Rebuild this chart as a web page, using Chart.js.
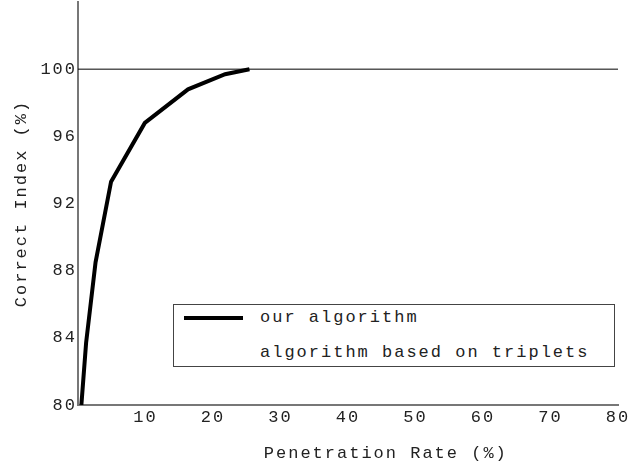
<!DOCTYPE html>
<html>
<head>
<meta charset="utf-8">
<script src="https://cdn.jsdelivr.net/npm/chart.js@4"></script>
<style>
  html, body { margin: 0; padding: 0; background: #fff; }
  #wrap { position: relative; width: 644px; height: 468px; }
  #legend {
    position: absolute; left: 173px; top: 304px; width: 442px; height: 63px;
    border: 1px solid #444; background: #fff; box-sizing: border-box;
    font-family: "Liberation Mono", monospace; font-size: 17px; letter-spacing: 2px; color: #222;
  }
  .row { position: absolute; left: 0; height: 20px; line-height: 20px; }
  .row .swatch { position: absolute; left: 10px; top: 8px; width: 59px; height: 4px; background: #000; }
  .row .lbl { position: absolute; left: 86px; white-space: nowrap; }
</style>
</head>
<body>
<div id="wrap">
  <canvas id="chart" width="644" height="468"></canvas>
  <div id="legend">
    <div class="row" style="top:3px"><span class="swatch"></span><span class="lbl">our algorithm</span></div>
    <div class="row" style="top:38px"><span class="lbl">algorithm based on triplets</span></div>
  </div>
</div>
<script>
// -------------------------
// Data
// -------------------------
const oursX = [0.5, 1.2, 2.6, 4.9, 9.9, 16.3, 21.8, 25.4];
const oursY = [80, 83.7, 88.5, 93.3, 96.8, 98.8, 99.7, 100];
const tripletsX = [0, 80];
const tripletsY = [100, 100];

const xTitle = "Penetration Rate (%)";
const yTitle = "Correct Index (%)";

const FONT = "'Liberation Mono', monospace";
const toPoints = (xs, ys) => xs.map((x, i) => ({ x, y: ys[i] }));

// letter spacing for the canvas text (the reference font is wide)
const spacing = {
  id: "spacing",
  beforeDraw(chart) { chart.ctx.letterSpacing = "2px"; },
  beforeLayout(chart) { chart.ctx.letterSpacing = "2px"; }
};

// x title sits a bit right of the plot centre in the reference
const xTitlePlugin = {
  id: "xTitle",
  afterDraw(chart) {
    const { ctx, chartArea } = chart;
    ctx.save();
    ctx.letterSpacing = "2px";
    ctx.font = "17px " + FONT;
    ctx.fillStyle = "#222";
    ctx.textAlign = "center";
    ctx.textBaseline = "middle";
    ctx.fillText(xTitle, chartArea.left + (chartArea.right - chartArea.left) * 0.57, 453);
    ctx.restore();
  }
};

new Chart(document.getElementById("chart"), {
  type: "line",
  data: {
    datasets: [
      {
        label: "our algorithm",
        data: toPoints(oursX, oursY),
        borderColor: "#000",
        borderWidth: 4,
        pointRadius: 0,
        tension: 0
      },
      {
        label: "algorithm based on triplets",
        data: toPoints(tripletsX, tripletsY),
        borderColor: "#000",
        borderWidth: 1,
        pointRadius: 0,
        tension: 0
      }
    ]
  },
  options: {
    responsive: false,
    animation: false,
    layout: { padding: { top: 2, right: 26, left: 0, bottom: 0 } },
    plugins: { legend: { display: false }, tooltip: { enabled: false } },
    scales: {
      x: {
        type: "linear",
        min: 0, max: 80,
        grid: { display: false, drawTicks: false },
        border: { color: "#777", width: 2 },
        ticks: {
          stepSize: 10, padding: 2, color: "#222",
          font: { family: FONT, size: 17 },
          maxRotation: 0,
          callback: v => (v === 0 ? "" : v)
        },
        afterFit(scale) { scale.height = 63; }
      },
      y: {
        min: 80, max: 104,
        grid: { display: false, drawTicks: false },
        border: { color: "#777", width: 2 },
        ticks: {
          stepSize: 4, padding: 1, color: "#222",
          font: { family: FONT, size: 17 },
          callback: v => (v === 104 ? "" : v)
        },
        title: {
          display: true, text: yTitle, color: "#222",
          font: { family: FONT, size: 17 }, padding: { top: 11, bottom: 0 }
        },
        afterFit(scale) {
          scale.width = 78;
          scale.paddingTop = 0;
          scale.paddingBottom = 0;
        }
      }
    }
  },
  plugins: [spacing, xTitlePlugin]
});
</script>
</body>
</html>
